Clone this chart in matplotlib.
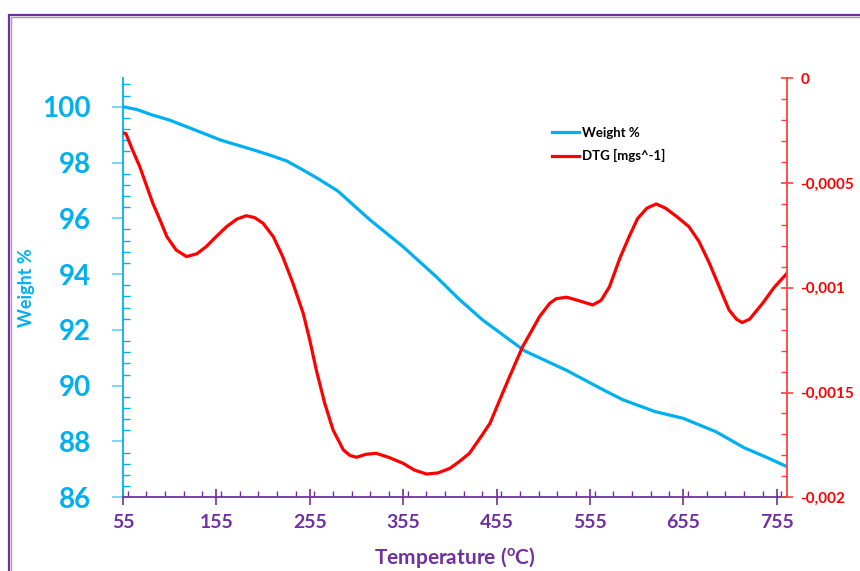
import matplotlib
matplotlib.use('Agg')
import matplotlib.pyplot as plt
from matplotlib.patches import Rectangle
from matplotlib.ticker import FixedLocator, MultipleLocator

plt.rcParams['font.family'] = ['Lato', 'DejaVu Sans']
plt.rcParams['font.weight'] = 'bold'

CYAN = '#00B0F0'
RED = '#FF0000'
PURPLE = '#7030A0'

# TGA weight loss
temp_w = [55, 70, 85, 105, 125, 160, 195, 212, 230, 248, 265, 285, 320, 355,
          390, 415, 440, 485, 530, 570, 590, 625, 655, 690, 720, 745, 766]
weight = [100.0, 99.9, 99.72, 99.52, 99.26, 98.8, 98.45, 98.27, 98.06, 97.73,
          97.4, 96.98, 95.93, 94.98, 93.92, 93.1, 92.36, 91.25, 90.55, 89.84,
          89.5, 89.07, 88.83, 88.35, 87.78, 87.42, 87.1]

# derivative curve
temp_d = [55, 58, 65, 73, 80, 87, 95, 102, 112, 123, 134, 144, 155, 166, 177,
          187, 196, 205, 216, 226, 237, 248, 255, 262, 271, 280, 291, 298,
          305, 315, 326, 340, 355, 367, 380, 392, 405, 415, 426,
          437, 448, 458, 469, 483, 492, 501, 512, 519, 530, 542, 558, 567,
          576, 587, 597, 606, 616, 626, 636, 648, 661, 672, 683, 694, 704,
          712, 718, 726, 740, 752, 766]
dtg = [-0.000262, -0.000263, -0.00034, -0.000422, -0.00051, -0.000597,
       -0.00068, -0.000756, -0.00082, -0.000851, -0.000838, -0.000804,
       -0.000755, -0.000708, -0.000672, -0.000656, -0.000665, -0.000692,
       -0.000756, -0.000851, -0.000978, -0.001122, -0.001249, -0.001392,
       -0.001551, -0.001679, -0.001774, -0.0018, -0.001809, -0.001795,
       -0.00179, -0.00181, -0.001838, -0.00187,
       -0.001889, -0.001884, -0.001862, -0.00183, -0.00179, -0.00172,
       -0.001647, -0.00154, -0.001424, -0.001281, -0.00121, -0.001138,
       -0.001074, -0.001052, -0.001045, -0.00106, -0.001082, -0.00106,
       -0.000995, -0.00086, -0.000756, -0.00067, -0.00062, -0.0006,
       -0.00062, -0.00066, -0.000708, -0.00078, -0.000883, -0.001, -0.001106,
       -0.00115, -0.001166, -0.00115, -0.001074, -0.001, -0.000931]

x_ticks = [55, 155, 255, 355, 455, 555, 655, 755]
w_ticks = [86, 88, 90, 92, 94, 96, 98, 100]
dtg_ticks = [0, -0.0005, -0.001, -0.0015, -0.002]
dtg_labels = ['0', '-0,0005', '-0,001', '-0,0015', '-0,002']

fig = plt.figure(figsize=(8.6, 5.71), dpi=100)
ax = fig.add_axes([0.143, 0.1291, 0.7718, 0.7338])
ax2 = ax.twinx()

# outer frame (purple with a grey inner edge)
fig.patches.append(Rectangle((10.5 / 860, -0.1), 1.2, 1 - 17 / 571 + 0.1,
                             transform=fig.transFigure, fill=False,
                             edgecolor='#A0A0A0', lw=1.0))
fig.patches.append(Rectangle((8.5 / 860, -0.1), 1.2, 1 - 15 / 571 + 0.1,
                             transform=fig.transFigure, fill=False,
                             edgecolor=PURPLE, lw=1.6))

l1, = ax.plot(temp_w, weight, color=CYAN, lw=2.3, label='Weight %',
              solid_joinstyle='round')
l2, = ax2.plot(temp_d, dtg, color=RED, lw=2.3, label='DTG [mgs^-1]',
               solid_joinstyle='round')

ax.set_xlim(55, 765.8)
ax.set_ylim(86, 101.02)
ax2.set_ylim(-0.002, 0)

for a in (ax, ax2):
    a.spines['top'].set_visible(False)
ax.spines['right'].set_visible(False)
ax2.spines['left'].set_visible(False)
ax2.spines['bottom'].set_visible(False)
ax.spines['left'].set_color(CYAN)
ax.spines['left'].set_linewidth(1.3)
ax.spines['bottom'].set_color(PURPLE)
ax.spines['bottom'].set_linewidth(1.3)
ax2.spines['right'].set_color('#FF4040')
ax2.spines['right'].set_linewidth(1.3)

ax.xaxis.set_major_locator(FixedLocator(x_ticks))
ax.xaxis.set_minor_locator(MultipleLocator(20))
ax.yaxis.set_major_locator(FixedLocator(w_ticks))
ax.yaxis.set_minor_locator(MultipleLocator(0.4))
ax2.yaxis.set_major_locator(FixedLocator(dtg_ticks))
ax2.yaxis.set_minor_locator(MultipleLocator(0.0001))
ax2.set_yticklabels(dtg_labels)

ax.tick_params(axis='x', which='major', direction='inout', length=12,
               width=1.2, color=PURPLE, labelcolor=PURPLE, labelsize=14, pad=6)
ax.tick_params(axis='x', which='minor', direction='in', length=4,
               width=1.0, color=PURPLE)
ax.tick_params(axis='y', which='major', direction='out', length=8,
               width=1.5, color='#7FD7F7', labelcolor=CYAN, labelsize=20,
               pad=15)
ax.tick_params(axis='y', which='minor', direction='in', length=5,
               width=1.0, color=CYAN)
ax2.tick_params(axis='y', which='major', direction='inout', length=8,
                width=1.2, color='#FF4040', labelcolor=RED, labelsize=11,
                pad=6)
ax2.tick_params(axis='y', which='minor', direction='in', length=4,
                width=1.0, color='#FF4040')
for lab in ax.get_xticklabels() + ax.get_yticklabels() + ax2.get_yticklabels():
    lab.set_fontweight('bold')

ax.set_xlabel(r'Temperature ($\mathregular{^o}$C)', color=PURPLE,
              fontsize=15, fontweight='bold')
ax.xaxis.set_label_coords(0.5, -0.113)
ax.set_ylabel('Weight %', color=CYAN, fontsize=13, fontweight='bold')
ax.yaxis.set_label_coords(-0.1326, 0.5)

ax2.legend(handles=[l1, l2], loc='upper left', bbox_to_anchor=(0.637, 0.9005),
           frameon=False, borderpad=0, handlelength=2.0, handletextpad=0.25,
           labelspacing=0.8, prop={'family': 'Lato', 'weight': 'bold',
                                   'size': 9.5})

fig.savefig('out.png', dpi=100)
